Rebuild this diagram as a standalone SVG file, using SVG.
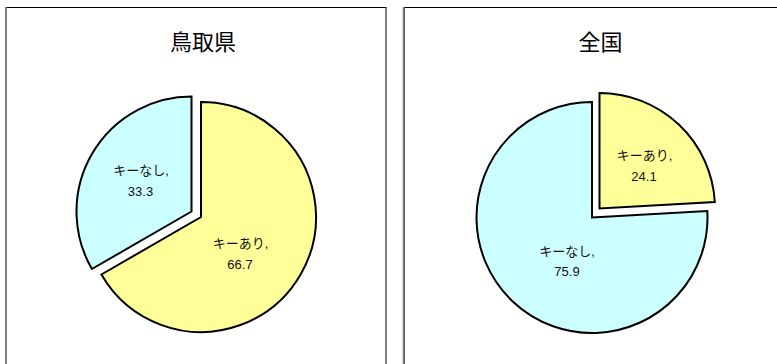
<svg xmlns="http://www.w3.org/2000/svg" width="777" height="364" viewBox="0 0 777 364">
<style>
.frame{fill:#fff;stroke:#000;stroke-width:1}
.edge{stroke:#808080;stroke-width:2}
.slice{stroke:#000;stroke-width:2;stroke-linejoin:miter}
.yes{fill:#FFFF99}
.no{fill:#CCFFFF}
.title{font-family:"Noto Sans CJK JP","Noto Sans",sans-serif;font-size:22px;text-anchor:middle;fill:#000}
.lbl{font-family:"Liberation Sans","Noto Sans CJK JP",sans-serif;font-size:13px;text-anchor:middle;fill:#111}
</style>
<rect width="777" height="364" fill="#fff"/>
<g id="panel-tottori">
<rect class="frame" x="6.5" y="7.5" width="379.5" height="380"/>
<line class="edge" x1="6" y1="7" x2="6" y2="364"/>
<text class="title" x="203" y="50">鳥取県</text>
<g id="tottori-ari">
<path class="slice yes" d="M201,217 L201,102 A115,115 0 1 1 101.41,274.5 Z"/>
<text class="lbl" x="240.5" y="248">キーあり,</text>
<text class="lbl" x="240" y="269">66.7</text>
</g>
<g id="tottori-nashi">
<path class="slice no" d="M191.5,211.5 L91.91,269 A115,115 0 0 1 191.5,96.5 Z"/>
<text class="lbl" x="141" y="175">キーなし,</text>
<text class="lbl" x="140.5" y="195.5">33.3</text>
</g>
</g>
<g id="panel-zenkoku">
<rect class="frame" x="404.5" y="7.5" width="400" height="380"/>
<line class="edge" x1="403.7" y1="7" x2="403.7" y2="364"/>
<text class="title" x="600.5" y="50">全国</text>
<g id="zenkoku-nashi">
<path class="slice no" d="M592,217.5 L707.32,210.97 A115.5,115.5 0 1 1 592,102 Z"/>
<text class="lbl" x="567" y="256">キーなし,</text>
<text class="lbl" x="567" y="276">75.9</text>
</g>
<g id="zenkoku-ari">
<path class="slice yes" d="M599.5,208.5 L599.5,93 A115.5,115.5 0 0 1 714.82,201.97 Z"/>
<text class="lbl" x="644.5" y="160">キーあり,</text>
<text class="lbl" x="644" y="180.5">24.1</text>
</g>
</g>
<g id="connectors"></g>
</svg>
